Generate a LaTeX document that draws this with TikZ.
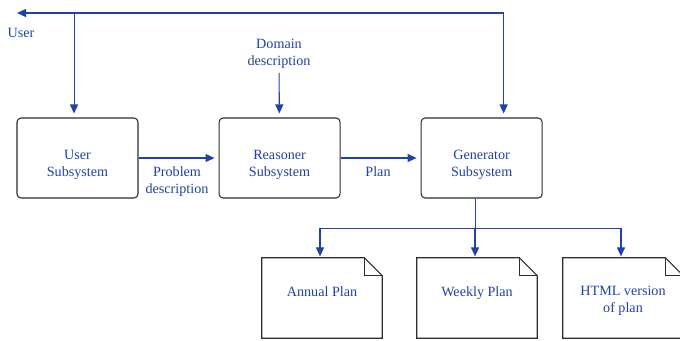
\documentclass[tikz,border=0pt]{standalone}
\usepackage{fontspec}
\setmainfont{Liberation Serif}
\usetikzlibrary{arrows.meta,positioning}
\definecolor{flowblue}{RGB}{30,66,166}
\definecolor{boxgray}{RGB}{45,45,45}
\tikzset{
  flowtext/.style = {font=\fontsize{10.6}{12.75}\selectfont, text=flowblue, align=center},
  subsys/.style   = {draw=boxgray, line width=0.8pt, rounded corners=3pt,
                     minimum width=90.75pt, minimum height=60pt, inner sep=0pt},
  plandoc/.style  = {minimum width=90pt, minimum height=60pt, inner sep=0pt},
  flow/.style     = {draw=flowblue, line width=0.8pt, ->, shorten >=3pt}
}

\begin{document}
\begin{tikzpicture}[
	  x=0.75pt, y=-0.75pt,
	  node distance=60pt,
	  >={Triangle[length=6.75pt,width=6pt]}]
	\useasboundingbox (0,0) rectangle (680,340);
	\clip (0,0) rectangle (680,340);
	
	% the three subsystems, placed left to right
	\node[subsys] (user) at (77.5,158) {};
	\node[subsys, right=of user] (reasoner) {};
	\node[subsys, right=of reasoner] (generator) {};
	
	% their names, a little below the middle of each box
	\foreach \sys/\name in {user/{User\\Subsystem},
	    reasoner/{Reasoner\\Subsystem}, generator/{Generator\\Subsystem}}
	  \node[flowtext] (\sys txt) at ([yshift=-5pt]\sys.center) {\name};
	
	% the plans that come out of the generator
	\node[plandoc] (annual) at (322,298) {};
	\node[plandoc] (weekly) at (477,298) {};
	\node[plandoc] (html) at (623,298) {};
	
	\foreach \doc in {annual,weekly,html} {
	  \draw[boxgray, line width=0.8pt] (\doc.north west)
	    -- ([xshift=-13.5pt]\doc.north east) -- ([yshift=-13.5pt]\doc.north east)
	    -- (\doc.south east) -- (\doc.south west) -- cycle;
	  \draw[boxgray, line width=0.8pt] ([xshift=-13.5pt]\doc.north east)
	    |- ([yshift=-13.5pt]\doc.north east);
	}
	
	\node[flowtext, anchor=north] (annualtxt) at ([yshift=-18pt]annual.north) {Annual Plan};
	\node[flowtext, anchor=north] (weeklytxt) at ([yshift=-18pt]weekly.north) {Weekly Plan};
	\node[flowtext, anchor=north] (htmltxt) at ([yshift=-18pt]html.north) {HTML version\\of plan};
	
	% inputs and outputs round the subsystems
	\node[flowtext] (usertag) at (21,33) {User};
	\node[flowtext] (domain) at (279,53.5) {Domain\\description};
	\node[flowtext] (problem) at (177,181.5) {Problem\\description};
	\node[flowtext] (plan) at (378,172) {Plan};
	
	% the loop from the generator back to the user
	\coordinate (userout) at (13,13);
	\coordinate (userin) at ([xshift=-2.6pt]user.north);
	\draw[flow, <->, shorten <=3pt] ([xshift=16.5pt]generator.north) |- (userout);
	\draw[flow] (userin |- userout) -- (userin);
	
	\draw[flow] (domain) -- (reasoner);
	\draw[flow] (user) -- (reasoner);
	\draw[flow] (reasoner) -- (generator);
	
	% lines from the generator to every plan
	\draw[draw=flowblue, line width=0.8pt] ([xshift=-4.5pt]generator.south)
	  -- ++(0,30) coordinate (split);
	\foreach \doc in {annual,weekly,html}
	  \draw[flow, shorten >=1pt] (split) -| ([xshift=-1.5pt]\doc.north);
	
	\end{tikzpicture}
\end{document}
